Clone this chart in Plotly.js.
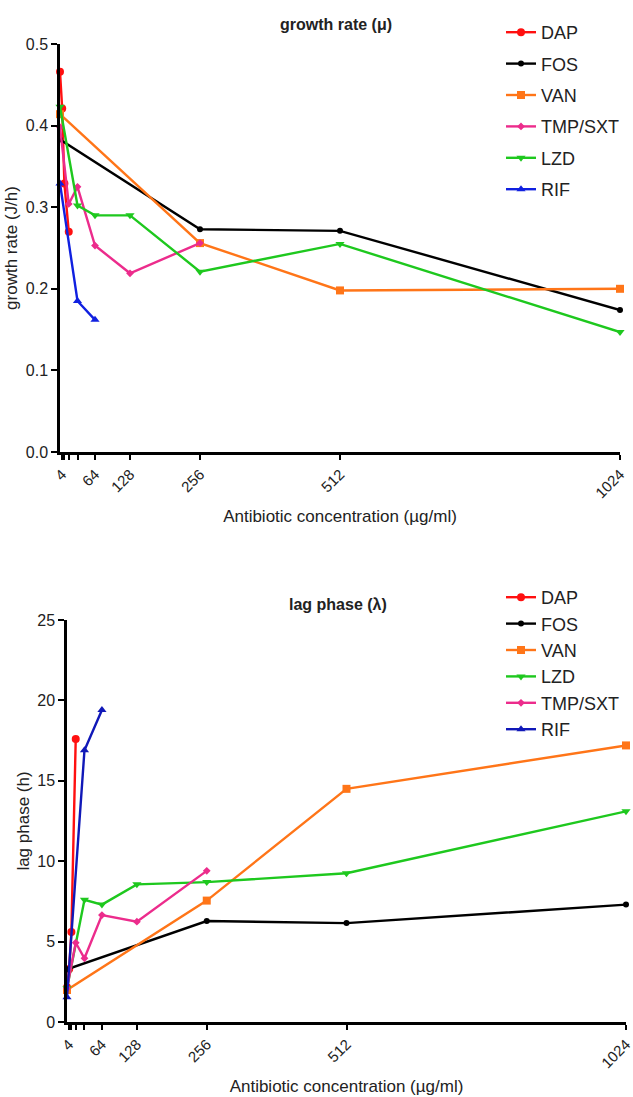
<!DOCTYPE html>
<html>
<head>
<meta charset="utf-8">
<script src="https://cdn.plot.ly/plotly-3.0.1.min.js"></script>
<style>
  body { margin: 0; background: #fff; }
  #plot { width: 633px; height: 1097px; }
</style>
</head>
<body>
<div id="plot"></div>
<script>
// concentration ticks
let tickVals = [4, 8, 16, 32, 64, 128, 256, 512, 1024];
let tickText = ["4", "", "", "", "64", "128", "256", "512", "1024"];

// growth rate (top)
let dapX = [0, 4, 8, 16];
let dapMu = [0.466, 0.421, 0.329, 0.270];
let fosX = [0, 256, 512, 1024];
let fosMu = [0.383, 0.273, 0.271, 0.174];
let vanX = [0, 256, 512, 1024];
let vanMu = [0.414, 0.256, 0.198, 0.200];
let tmpX = [0, 16, 32, 64, 128, 256];
let tmpMu = [0.398, 0.304, 0.325, 0.253, 0.219, 0.256];
let lzdX = [0, 32, 64, 128, 256, 512, 1024];
let lzdMu = [0.423, 0.302, 0.290, 0.290, 0.221, 0.255, 0.147];
let rifX = [0, 32, 64];
let rifMu = [0.329, 0.185, 0.162];

// lag phase (bottom)
let dapLag = [2.16, 3.3, 5.6, 17.6];
let fosLag = [3.28, 6.28, 6.15, 7.3];
let vanLag = [1.99, 7.55, 14.5, 17.2];
let lzdLag = [2.1, 7.6, 7.3, 8.56, 8.7, 9.25, 13.1];
let tmpLag = [2.1, 4.93, 3.96, 6.65, 6.24, 9.4];
let rifLag = [1.54, 16.9, 19.4];

let colors = {
  DAP: "#ff1010",
  FOS: "#000000",
  VAN: "#ff7518",
  TMP: "#ec2c8c",
  LZD: "#1ec81e",
  RIF: "#1020e0",
  RIF2: "#1018b8"
};

function series(name, x, y, color, symbol, size, xa, ya, leg) {
  return {
    x: x, y: y, name: name,
    type: "scatter", mode: "lines+markers",
    line: {color: color, width: 2.4},
    marker: {color: color, symbol: symbol, size: size},
    xaxis: xa, yaxis: ya,
    legend: leg,
    legendgroup: leg + name,
    cliponaxis: false
  };
}

let traces = [
  series("DAP", dapX, dapMu, colors.DAP, "circle", 8, "x", "y", "legend"),
  series("FOS", fosX, fosMu, colors.FOS, "circle", 6, "x", "y", "legend"),
  series("VAN", vanX, vanMu, colors.VAN, "square", 8, "x", "y", "legend"),
  series("TMP/SXT", tmpX, tmpMu, colors.TMP, "diamond", 6, "x", "y", "legend"),
  series("LZD", lzdX, lzdMu, colors.LZD, "triangle-down", 8, "x", "y", "legend"),
  series("RIF", rifX, rifMu, colors.RIF, "triangle-up", 8, "x", "y", "legend"),

  series("DAP", dapX, dapLag, colors.DAP, "circle", 8, "x2", "y2", "legend2"),
  series("FOS", fosX, fosLag, colors.FOS, "circle", 6, "x2", "y2", "legend2"),
  series("VAN", vanX, vanLag, colors.VAN, "square", 8, "x2", "y2", "legend2"),
  series("LZD", lzdX, lzdLag, colors.LZD, "triangle-down", 8, "x2", "y2", "legend2"),
  series("TMP/SXT", tmpX, tmpLag, colors.TMP, "diamond", 6, "x2", "y2", "legend2"),
  series("RIF", rifX, rifLag, colors.RIF2, "triangle-up", 8, "x2", "y2", "legend2")
];

let W = 633, H = 1097;
let fam = "Liberation Sans, Arial, sans-serif";
let tickFnt = {family: fam, size: 16, color: "#222"};
let xTickFnt = {family: fam, size: 15, color: "#222"};
let titleFnt = {family: fam, size: 17, color: "#222"};

function xAxis(left, right, anchor) {
  return {
    domain: [left / W, right / W],
    range: [0, 1024],
    tickvals: tickVals, ticktext: tickText,
    tickangle: -45,
    ticklabeloverflow: "allow",
    ticks: "outside", ticklen: 5, tickwidth: 2, tickcolor: "#000",
    showline: true, linewidth: 2.5, linecolor: "#000",
    showgrid: false, zeroline: false,
    anchor: anchor,
    tickfont: xTickFnt,
    title: {text: "Antibiotic concentration (µg/ml)", font: titleFnt, standoff: 10}
  };
}

function yAxis(top, bottom, range, dtick, fmt, title, anchor) {
  return {
    domain: [1 - bottom / H, 1 - top / H],
    range: range, dtick: dtick, tickformat: fmt,
    ticks: "outside", ticklen: 6, tickwidth: 2, tickcolor: "#000",
    showline: true, linewidth: 2.5, linecolor: "#000",
    showgrid: false, zeroline: false,
    anchor: anchor,
    tickfont: tickFnt,
    title: {text: title, font: titleFnt, standoff: 4}
  };
}

let legendBase = {
  xanchor: "left", yanchor: "top",
  bgcolor: "rgba(0,0,0,0)",
  font: {family: fam, size: 18, color: "#222"},
  traceorder: "grouped",
  itemwidth: 30
};

let layout = {
  width: W, height: H,
  margin: {l: 0, r: 0, t: 0, b: 0},
  paper_bgcolor: "#fff", plot_bgcolor: "#fff",
  showlegend: true,
  xaxis: xAxis(60, 620, "y"),
  yaxis: yAxis(44, 452, [0, 0.5], 0.1, ".1f", "growth rate (J/h)", "x"),
  xaxis2: xAxis(67, 626, "y2"),
  yaxis2: yAxis(620, 1022, [0, 25], 5, "d", "lag phase (h)", "x2"),
  legend: Object.assign({}, legendBase, {x: 501 / W, y: 1 - 14 / H, tracegroupgap: 5}),
  legend2: Object.assign({}, legendBase, {x: 501 / W, y: 1 - 579 / H, tracegroupgap: 0}),
  annotations: [
    {text: "<b>growth rate (μ)</b>", x: 336 / W, y: 1 - 14 / H, xref: "paper", yref: "paper",
     showarrow: false, font: {family: fam, size: 16, color: "#222"}},
    {text: "<b>lag phase (λ)</b>", x: 338 / W, y: 1 - 604 / H, xref: "paper", yref: "paper",
     showarrow: false, font: {family: fam, size: 16, color: "#222"}}
  ]
};

Plotly.newPlot("plot", traces, layout, {displayModeBar: false});
</script>
</body>
</html>
